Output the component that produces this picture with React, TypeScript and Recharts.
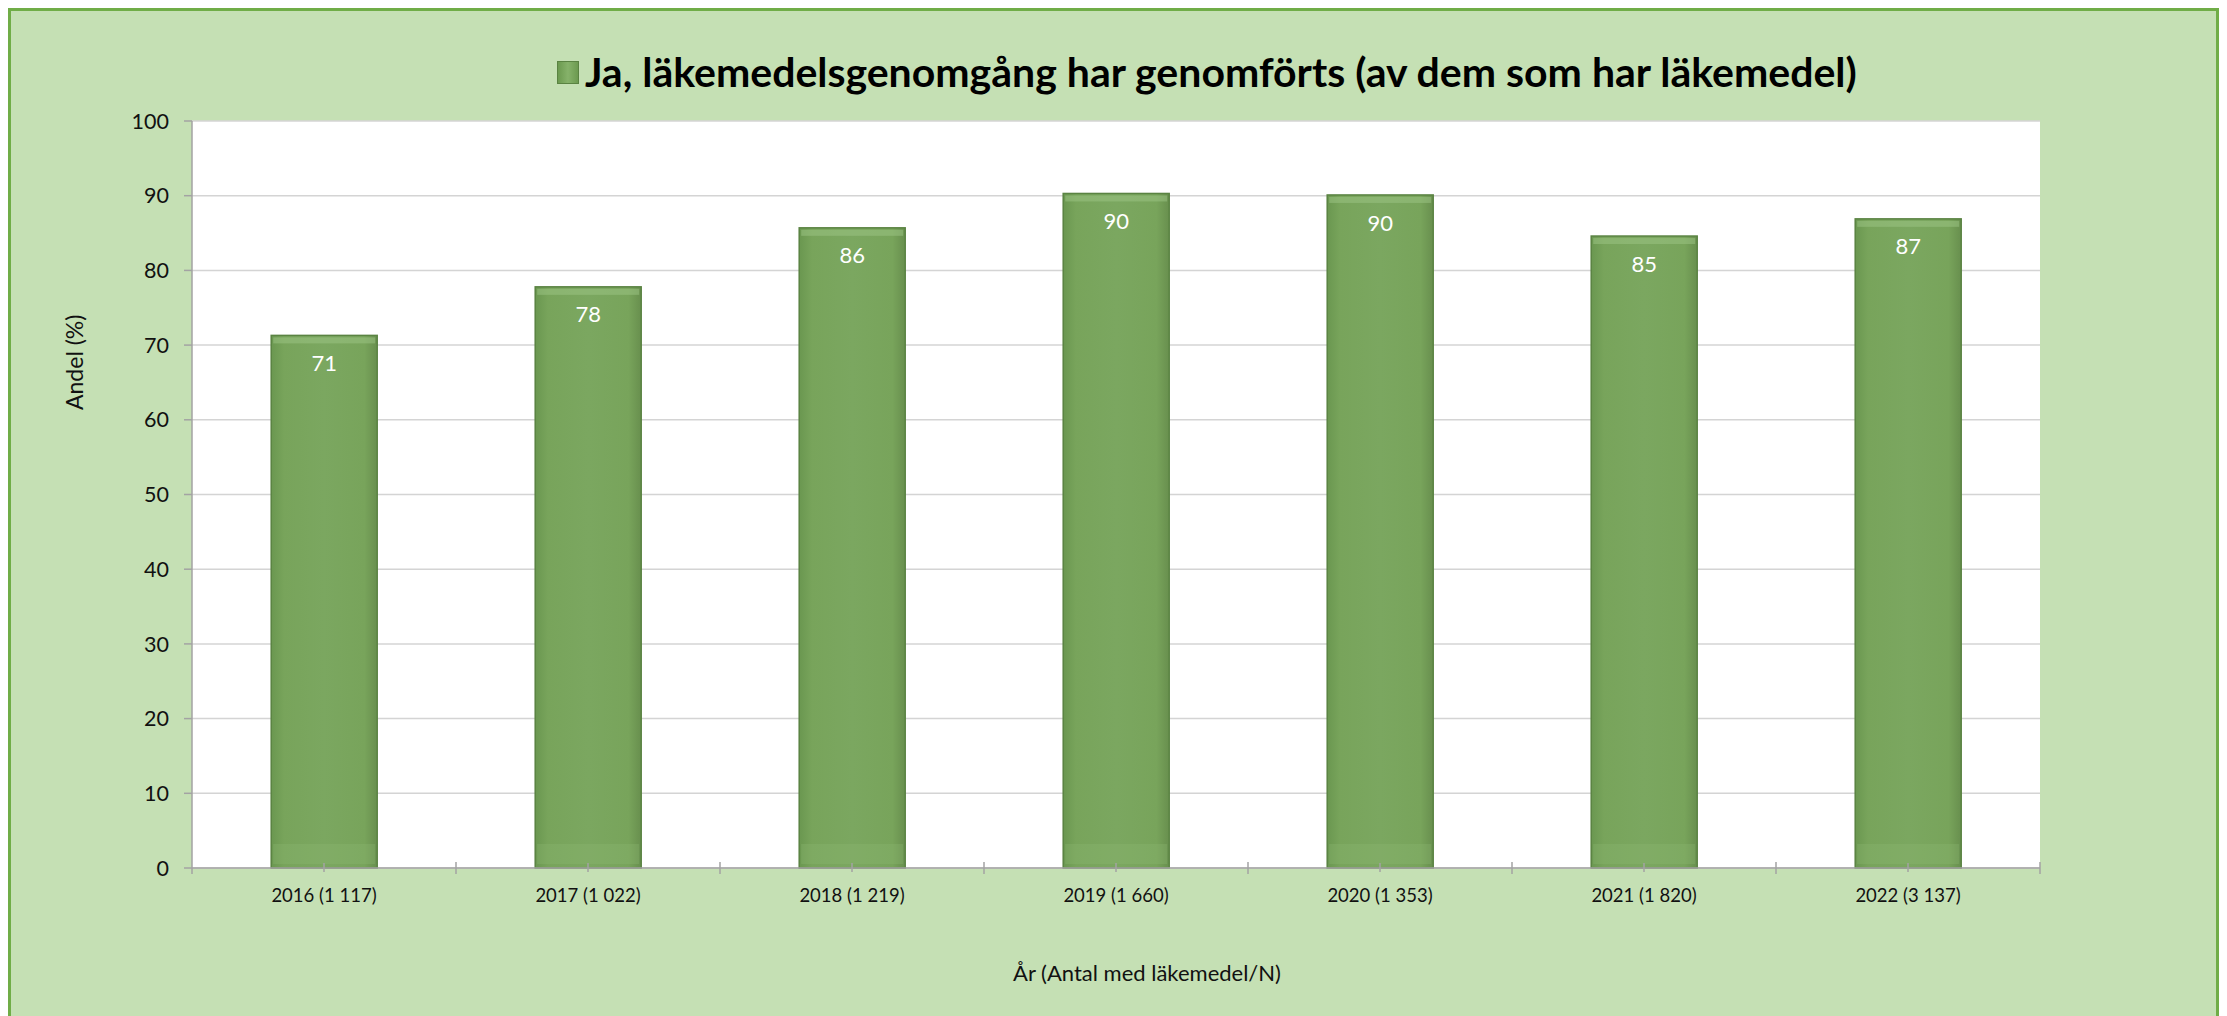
import { BarChart, Bar, XAxis, YAxis, CartesianGrid, Legend, LabelList } from 'recharts';

const categories = [
  '2016 (1 117)',
  '2017 (1 022)',
  '2018 (1 219)',
  '2019 (1 660)',
  '2020 (1 353)',
  '2021 (1 820)',
  '2022 (3 137)',
];
const shares = [71.3, 77.8, 85.7, 90.3, 90.1, 84.6, 86.9];
const yTicks = [0, 10, 20, 30, 40, 50, 60, 70, 80, 90, 100];
const seriesName = 'Ja, läkemedelsgenomgång har genomförts (av dem som har läkemedel)';
const xTitle = 'År (Antal med läkemedel/N)';
const yTitle = 'Andel (%)';

const data = categories.map((c, i) => ({ year: c, value: shares[i] }));

const FONT = 'Lato, "Open Sans", sans-serif';
const CHART_W = 2205;
const CHART_H = 1006;
const MARGIN = { top: 110, right: 176, left: 0, bottom: 89 };
const Y_AXIS_W = 181;
const PLOT_W = CHART_W - MARGIN.right - MARGIN.left - Y_AXIS_W;
const BAND = PLOT_W / categories.length;
const AXIS_GREY = '#a3a3a3';

function GreenBar(props: any) {
  const { x, y, width, height } = props;
  if (!height || height <= 0) return null;
  return (
    <g>
      <rect x={x} y={y} width={width} height={height} fill="url(#barGrad)" stroke="#5a8342" strokeWidth={1.5} />
      <rect x={x + 2} y={y + 2} width={width - 4} height={6} fill="#9dc585" opacity={0.5} />
      <rect x={x + 2} y={y + height - 24} width={width - 4} height={20} fill="#8db873" opacity={0.3} />
    </g>
  );
}

function XTick(props: any) {
  const { x, y, payload, index } = props;
  return (
    <g>
      <line x1={x} x2={x} y1={y - 5} y2={y + 4} stroke={AXIS_GREY} strokeWidth={1.5} />
      <line x1={x + BAND / 2} x2={x + BAND / 2} y1={y - 6} y2={y + 6} stroke={AXIS_GREY} strokeWidth={1.5} />
      {index === 0 && (
        <line x1={x - BAND / 2} x2={x - BAND / 2} y1={y} y2={y + 6} stroke={AXIS_GREY} strokeWidth={1.5} />
      )}
      <text x={x} y={y + 29} textAnchor="middle" dominantBaseline="middle" fontSize={18.5} fontFamily={FONT} fill="#111">
        {payload.value}
      </text>
    </g>
  );
}

function LegendBox() {
  return (
    <div style={{ display: 'flex', alignItems: 'center', fontFamily: FONT, whiteSpace: 'nowrap' }}>
      <span
        style={{
          display: 'inline-block',
          width: 20,
          height: 21,
          background: 'linear-gradient(90deg,#6c9a50,#86b26a,#6c9a50)',
          border: '1px solid #5a8342',
          marginRight: 6,
        }}
      />
      <span style={{ fontSize: 41, fontWeight: 700, color: '#000', lineHeight: '48px' }}>{seriesName}</span>
    </div>
  );
}

export default function App() {
  const yTitleY = (vb: any) => vb.y + vb.height * 0.323;
  return (
    <div
      style={{
        width: 2211,
        height: 1020,
        boxSizing: 'border-box',
        border: '3px solid #70ad47',
        background: '#c5e0b4',
        position: 'relative',
      }}
    >
      <style>{'body{overflow:hidden}'}</style>
      <BarChart width={CHART_W} height={CHART_H} data={data} margin={MARGIN} barCategoryGap="30%">
        <defs>
          <linearGradient id="barGrad" x1="0" y1="0" x2="1" y2="0">
            <stop offset="0%" stopColor="#6a9750" />
            <stop offset="12%" stopColor="#78a45b" />
            <stop offset="50%" stopColor="#7ba760" />
            <stop offset="88%" stopColor="#78a45b" />
            <stop offset="100%" stopColor="#688f4e" />
          </linearGradient>
        </defs>
        <CartesianGrid horizontal vertical={false} stroke="#d4d4d4" strokeWidth={1.5} fill="#ffffff" />
        <Legend
          verticalAlign="middle"
          align="center"
          content={() => <LegendBox />}
          wrapperStyle={{ top: 37, left: 546, width: 'auto', height: 'auto' }}
        />
        <XAxis
          dataKey="year"
          axisLine={{ stroke: AXIS_GREY, strokeWidth: 1.5 }}
          tickLine={false}
          tickSize={0}
          tickMargin={0}
          height={60}
          interval={0}
          tick={<XTick />}
          label={({ viewBox }: any) => (
            <text
              x={viewBox.x + viewBox.width * 0.5168}
              y={964}
              textAnchor="middle"
              dominantBaseline="middle"
              fontSize={22}
              fontFamily={FONT}
              fill="#111"
            >
              {xTitle}
            </text>
          )}
        />
        <YAxis
          width={Y_AXIS_W}
          domain={[0, 100]}
          ticks={yTicks}
          interval={0}
          axisLine={{ stroke: AXIS_GREY, strokeWidth: 1.5 }}
          tickLine={{ stroke: AXIS_GREY, strokeWidth: 1.5 }}
          tickSize={8}
          tickMargin={15}
          tick={{ fontSize: 21.5, fontFamily: FONT, fill: '#111' }}
          label={({ viewBox }: any) => (
            <text
              x={66}
              y={yTitleY(viewBox)}
              textAnchor="middle"
              dominantBaseline="middle"
              fontSize={23}
              fontFamily={FONT}
              fill="#111"
              transform={`rotate(-90 66 ${yTitleY(viewBox)})`}
            >
              {yTitle}
            </text>
          )}
        />
        <Bar dataKey="value" name={seriesName} shape={<GreenBar />} isAnimationActive={false}>
          <LabelList
            dataKey="value"
            position="insideTop"
            offset={20}
            formatter={(v: any) => Math.round(Number(v))}
            style={{ fill: '#ffffff', fontSize: 22, fontFamily: FONT }}
          />
        </Bar>
      </BarChart>
    </div>
  );
}
